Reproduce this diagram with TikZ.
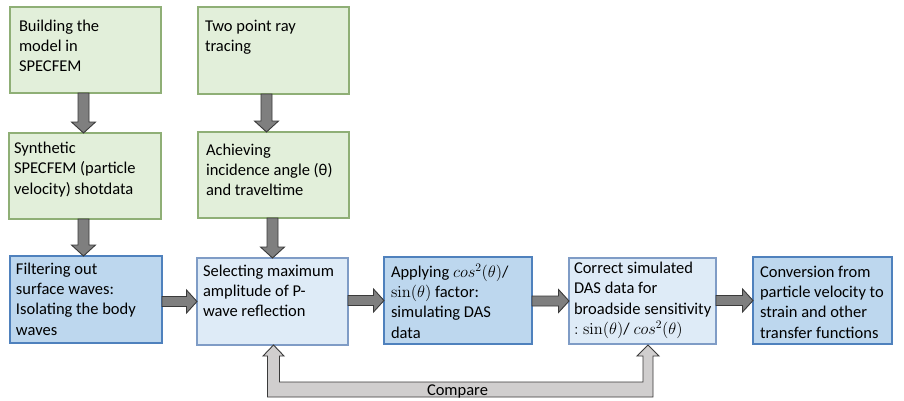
\RequirePackage{fix-cm}
\documentclass[tikz,border=0pt]{standalone}
\usepackage[no-math]{fontspec}
\setmainfont{Carlito}
\usetikzlibrary{calc}

\definecolor{grnfill}{HTML}{E2EFDA}
\definecolor{grnline}{HTML}{8FAF76}
\definecolor{bluefill}{HTML}{BDD7EE}
\definecolor{blueline}{HTML}{4F81BD}
\definecolor{paleblue}{HTML}{DEEBF7}
\definecolor{palebline}{HTML}{7F9CC6}
\definecolor{arrfill}{HTML}{7F7F7F}
\definecolor{arrline}{HTML}{3A3A3A}
\definecolor{cmpfill}{HTML}{D0CECE}

\tikzset{
  boxbase/.style={draw, line width=1.2pt, inner sep=0pt, outer sep=0pt, anchor=north west},
  greenbox/.style={boxbase, fill=grnfill, draw=grnline},
  bluebox/.style={boxbase, fill=bluefill, draw=blueline},
  palebox/.style={boxbase, fill=paleblue, draw=palebline},
  txt/.style={anchor=base west, inner sep=0pt, outer sep=0pt},
  darkarrow/.style={fill=arrfill, draw=arrline, line width=0.9pt, line join=miter},
  lightarrow/.style={fill=cmpfill, draw=arrline, line width=0.9pt, line join=miter},
}

% multi-line text block whose reference point is the first baseline
\newcommand\boxlines[1]{\parbox[t]{300pt}{\fontsize{16.5}{20.4}\selectfont
  \lineskiplimit=-20pt\relax #1}}

% downward block arrow between two stacked boxes, #3 = x shift of its axis
\newcommand\vblk[3]{%
  \draw[darkarrow] let \p1=($(#1.south)+(#3pt,0)$), \p2=(#2.north) in
    ({\x1-5.5pt},\y1) -- ({\x1+5.5pt},\y1) -- ({\x1+5.5pt},{\y2+11pt})
    -- ({\x1+12pt},{\y2+11pt}) -- (\x1,\y2) -- ({\x1-12pt},{\y2+11pt})
    -- ({\x1-5.5pt},{\y2+11pt}) -- cycle;}

% rightward block arrow between two boxes in a row
\newcommand\hblk[2]{%
  \draw[darkarrow] let \p1=(#1.east), \p2=(#2.west) in
    (\x1,{\y2+5pt}) -- ({\x2-10.5pt},{\y2+5pt}) -- ({\x2-10.5pt},{\y2+11.5pt})
    -- (\x2,\y2) -- ({\x2-10.5pt},{\y2-11.5pt}) -- ({\x2-10.5pt},{\y2-5pt})
    -- (\x1,{\y2-5pt}) -- cycle;}

\begin{document}
\begin{tikzpicture}[x=1pt, y=-1pt]
\useasboundingbox[fill=white] (0,0) rectangle (904,400);

% ---- boxes ----
\node[greenbox, minimum width=151pt, minimum height=86pt] (b1) at (10,7) {};
\node[greenbox, minimum width=151pt, minimum height=87pt] (b2) at (198,7) {};
\node[greenbox, minimum width=152pt, minimum height=86pt] (b3) at (9,133) {};
\node[greenbox, minimum width=151pt, minimum height=86pt] (b4) at (198,132) {};
\node[bluebox,  minimum width=152pt, minimum height=87pt] (b5) at (10,256) {};
\node[palebox,  minimum width=151pt, minimum height=87pt] (b6) at (197,258) {};
\node[bluebox,  minimum width=148pt, minimum height=87pt] (b7) at (384,257) {};
\node[palebox,  minimum width=147pt, minimum height=86pt] (b8) at (569,258) {};
\node[bluebox,  minimum width=139pt, minimum height=87pt] (b9) at (753,257) {};

% ---- box texts ----
\node[txt] (t1) at ($(b1.north west)+(9,24)$) {\boxlines{Building the\\model in\\SPECFEM}};
\node[txt] (t2) at ($(b2.north west)+(7,24)$) {\boxlines{Two point ray\\tracing}};
\node[txt] (t3) at ($(b3.north west)+(5,20.5)$) {\boxlines{Synthetic\\SPECFEM (particle\\velocity) shotdata}};
\node[txt] (t4) at ($(b4.north west)+(8,23)$) {\boxlines{Achieving\\incidence angle (θ)\\and traveltime}};
\node[txt] (t5) at ($(b5.north west)+(6,18)$) {\boxlines{Filtering out\\surface waves:\\Isolating the body\\waves}};
\node[txt] (t6) at ($(b6.north west)+(6,18)$) {\boxlines{Selecting maximum\\amplitude of P-\\wave reflection}};
\node[txt] (t7) at ($(b7.north west)+(7,20)$) {\boxlines{Applying $cos^2(\theta)$/\\$\sin(\theta)$ factor:\\simulating DAS\\data}};
\node[txt] (t8) at ($(b8.north west)+(5,15.5)$) {\boxlines{Correct simulated\\DAS data for\\broadside sensitivity\\$:\sin(\theta)$/ $cos^2(\theta)$}};
\node[txt] (t9) at ($(b9.north west)+(7,20)$) {\boxlines{Conversion from\\particle velocity to\\strain and other\\transfer functions}};

% ---- flow arrows ----
\vblk{b1}{b3}{-2}
\vblk{b2}{b4}{-7}
\vblk{b3}{b5}{-1.5}
\vblk{b4}{b6}{-1}
\hblk{b5}{b6}
\hblk{b6}{b7}
\hblk{b7}{b8}
\hblk{b8}{b9}

% ---- two-headed comparison arrow under the row ----
\draw[lightarrow] let \p1=($(b6.south)+(1pt,0)$), \p2=($(b8.south)+(5.5pt,0)$) in
  ({\x1-6pt},{\y1-52pt}) -- ({\x2+5pt},{\y1-52pt}) -- ({\x2+5pt},{\y1-11pt})
  -- ({\x2+11pt},{\y1-11pt}) -- (\x2,\y1) -- ({\x2-11pt},{\y1-11pt})
  -- ({\x2-5pt},{\y1-11pt}) -- ({\x2-5pt},{\y1-37pt}) -- ({\x1+6pt},{\y1-37pt})
  -- ({\x1+6pt},{\y1-11pt}) -- ({\x1+10.5pt},{\y1-11pt}) -- (\x1,\y1)
  -- ({\x1-10.5pt},{\y1-11pt}) -- ({\x1-6pt},{\y1-11pt}) -- cycle;
\node[anchor=base, inner sep=0pt, font=\fontsize{16.5}{20}\selectfont] (cmp) at (457.5,395) {Compare};
\end{tikzpicture}
\end{document}
